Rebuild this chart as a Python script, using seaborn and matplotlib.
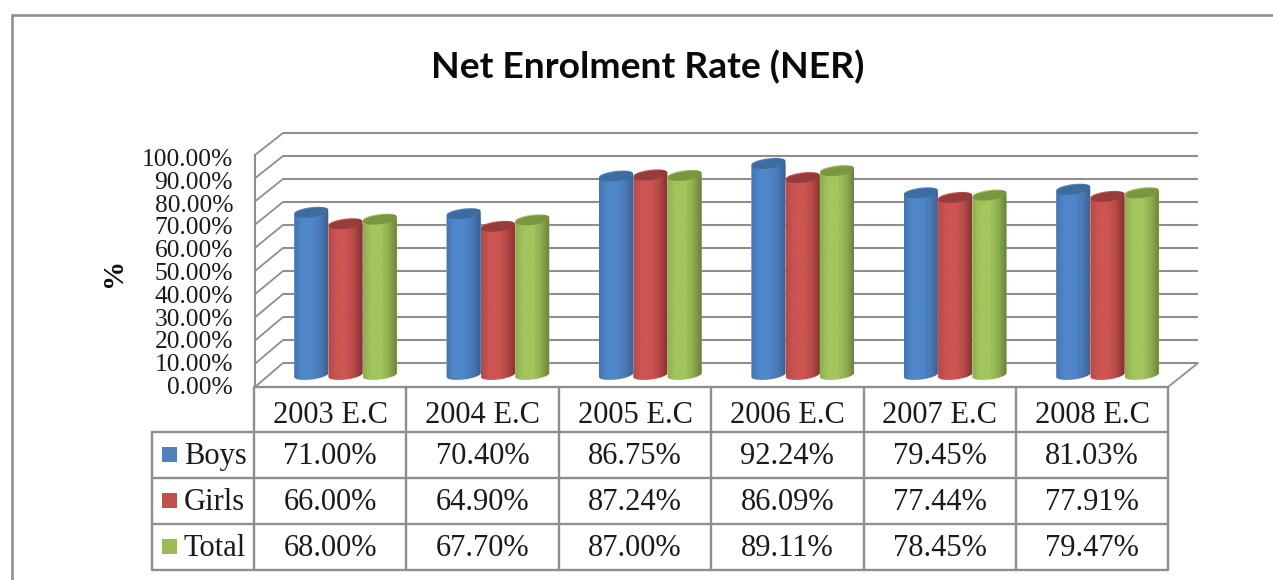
import numpy as np
import pandas as pd
import matplotlib
matplotlib.use('Agg')
import matplotlib.pyplot as plt
import seaborn as sns
from matplotlib.colors import LinearSegmentedColormap
from matplotlib.patches import Polygon, Rectangle

years = ['2003 E.C', '2004 E.C', '2005 E.C', '2006 E.C', '2007 E.C', '2008 E.C']
boys = [71.00, 70.40, 86.75, 92.24, 79.45, 81.03]
girls = [66.00, 64.90, 87.24, 86.09, 77.44, 77.91]
total = [68.00, 67.70, 87.00, 89.11, 78.45, 79.47]
series_names = ['Boys', 'Girls', 'Total']
y_ticks = [0, 10, 20, 30, 40, 50, 60, 70, 80, 90, 100]

colors = ['#4f81bd', '#c0504d', '#9bbb59']
top_colors = ['#3d6c9f', '#963c3a', '#7a973f']
ramps = [
    ['#4575b0', '#5087cb', '#5087cb', '#4a7ab5', '#38618f'],
    ['#b54a48', '#cd5552', '#cd5552', '#b54a48', '#7f302e'],
    ['#8fae52', '#a3c65d', '#a3c65d', '#8fae52', '#667f37'],
]
line_col = '#8e8e8e'
W, H = 1273, 580

sns.set_style('white')
plt.rcParams['font.family'] = ['Liberation Serif', 'DejaVu Sans']

df = pd.DataFrame({'year': years * 3,
                   'series': np.repeat(series_names, len(years)),
                   'value': boys + girls + total})

fig = plt.figure(figsize=(W / 100, H / 100), dpi=100, facecolor='white')

# backdrop + table, in pixel coordinates of the picture
bg = fig.add_axes([0, 0, 1, 1], zorder=1)
bg.set_xlim(0, W)
bg.set_ylim(H, 0)
bg.set_axis_off()

# bars axes: x -0.5..5.5 and y 0..100 at mid depth of the fake 3d box
left, right, y0, y100 = 269.3, 1183.7, 375, 145
ax = fig.add_axes([left / W, 1 - y0 / H, (right - left) / W, (y0 - y100) / H], zorder=2)
ax.patch.set_alpha(0)

sns.barplot(data=df, x='year', y='value', hue='series', order=years, hue_order=series_names,
            palette=colors, width=0.675, gap=0, saturation=1, legend=False, ax=ax)
ax.set_xlim(-0.5, 5.5)
ax.set_ylim(0, 100)
ax.set_axis_off()

# outer frame
bg.plot([11.5, 11.5, W], [H, 15.2, 15.2], color=line_col, lw=1.9, solid_joinstyle='miter')

bg.text(648, 67, 'Net Enrolment Rate (NER)', family='Lato', weight='bold', fontsize=26.8,
        ha='center', va='center', color='#0a0a0a')
bg.text(114, 272, '%', rotation=90, weight='bold', fontsize=21, ha='center', va='center', color='#111111')

# walls
for t in y_ticks:
    yb = 363 - 2.3 * t
    yf = 387 - 2.32 * t
    bg.plot([283, 1198], [yb, yb], color=line_col, lw=1.5, solid_capstyle='butt')
    bg.plot([255, 283], [yf, yb], color=line_col, lw=1.3)
    bg.text(233, 388 - 2.28 * t, f'{t:.2f}%', ha='right', va='center', fontsize=18.4, color='#1a1a1a')
bg.plot([255, 255], [155, 387], color=line_col, lw=1.5)
bg.plot([1168, 1198], [387, 363], color=line_col, lw=1.3)

# data table
col_x = [254 + 152.4 * i for i in range(len(years) + 1)]
row_y = [432, 478, 524, 570]
bg.plot([254, col_x[-1]], [387, 387], color=line_col, lw=1.7)
for x in col_x:
    bg.plot([x, x], [387, row_y[-1]], color=line_col, lw=1.7)
bg.plot([152, 152], [row_y[0], row_y[-1]], color=line_col, lw=1.7)
for y in row_y:
    bg.plot([152, col_x[-1]], [y, y], color=line_col, lw=1.7)
for i, yr in enumerate(years):
    bg.text((col_x[i] + col_x[i + 1]) / 2, 423, yr, ha='center', va='baseline', fontsize=22, color='#1a1a1a')
for r, (name, vals) in enumerate(zip(series_names, [boys, girls, total])):
    yc = (row_y[r] + row_y[r + 1]) / 2
    bg.add_patch(Rectangle((162, yc - 8), 15, 15, fc=colors[r], ec='none'))
    bg.text(184, yc + 9, name, ha='left', va='baseline', fontsize=22, color='#1a1a1a')
    for i, v in enumerate(vals):
        bg.text((col_x[i] + col_x[i + 1]) / 2, yc + 9, f'{v:.2f}%', ha='center', va='baseline',
                fontsize=22, color='#1a1a1a')

# turn the flat seaborn bars into cylinders
px_x = (right - left) / 6
px_y = (y0 - y100) / 100
tilt = np.deg2rad(7)
b_px = 4.5


def ellipse(cx, cy, a_px, t):
    dx = a_px * np.cos(t) * np.cos(tilt) - b_px * np.sin(t) * np.sin(tilt)
    dy = a_px * np.cos(t) * np.sin(tilt) + b_px * np.sin(t) * np.cos(tilt)
    return cx + dx / px_x, cy + dy / px_y


for c, container in enumerate(ax.containers):
    cmap = LinearSegmentedColormap.from_list('cyl', ramps[c])
    for bar in container:
        cx = bar.get_x() + bar.get_width() / 2
        h = bar.get_height()
        a_px = bar.get_width() * px_x / 2
        low = np.linspace(np.pi, 2 * np.pi, 30)
        up = np.linspace(0, np.pi, 30)
        bx, by = ellipse(cx, 0, a_px, low)
        tx, ty = ellipse(cx, h, a_px, up)
        body = Polygon(np.column_stack([np.r_[bx, tx], np.r_[by, ty]]), transform=ax.transData)
        bar.set_clip_path(body)
        img = ax.imshow(np.linspace(0, 1, 128)[None, :], cmap=cmap, aspect='auto', zorder=3,
                        extent=(bar.get_x(), bar.get_x() + bar.get_width(), -5, h + 5))
        # the bottom of the cylinder hangs below y=0, so clip to the figure and not the axes
        img.set_clip_box(fig.bbox)
        img.set_clip_path(body)
        ex, ey = ellipse(cx, h - 0.5, a_px * 0.97, np.linspace(0, 2 * np.pi, 60))
        ax.add_patch(Polygon(np.column_stack([ex, ey]), fc=top_colors[c], ec='none', zorder=4, clip_on=False))
ax.set_xlim(-0.5, 5.5)
ax.set_ylim(0, 100)

fig.savefig('out.png', dpi=100)
